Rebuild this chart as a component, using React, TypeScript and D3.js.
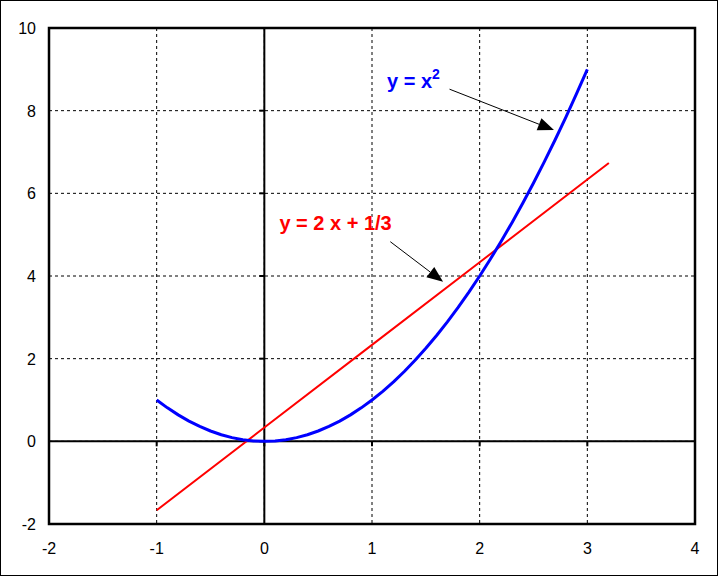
import React from "react";
import * as d3 from "d3";

const xTicks = [-2, -1, 0, 1, 2, 3, 4];
const yTicks = [-2, 0, 2, 4, 6, 8, 10];

const parabolaX = [-1, -0.9, -0.8, -0.7, -0.6, -0.5, -0.4, -0.3, -0.2, -0.1, 0, 0.1, 0.2, 0.3, 0.4, 0.5, 0.6, 0.7, 0.8, 0.9, 1, 1.1, 1.2, 1.3, 1.4, 1.5, 1.6, 1.7, 1.8, 1.9, 2, 2.1, 2.2, 2.3, 2.4, 2.5, 2.6, 2.7, 2.8, 2.9, 3];
const parabolaY = [1, 0.81, 0.64, 0.49, 0.36, 0.25, 0.16, 0.09, 0.04, 0.01, 0, 0.01, 0.04, 0.09, 0.16, 0.25, 0.36, 0.49, 0.64, 0.81, 1, 1.21, 1.44, 1.69, 1.96, 2.25, 2.56, 2.89, 3.24, 3.61, 4, 4.41, 4.84, 5.29, 5.76, 6.25, 6.76, 7.29, 7.84, 8.41, 9];

const lineX = [-1, 0, 1, 2, 3, 3.2];
const lineY = [-1.667, 0.333, 2.333, 4.333, 6.333, 6.733];

// annotations: [textX, textY, arrowStartX, arrowStartY, arrowEndX, arrowEndY]
const blueAnno = [1.14, 8.55, 1.72, 8.52, 2.69, 7.53];
const redAnno = [0.14, 5.11, 1.17, 4.83, 1.66, 3.86];

const W = 720, H = 576;
const L = 49, R = 695, T = 28, B = 524;

export default function App() {
  const x = d3.scaleLinear().domain([-2, 4]).range([L, R]);
  const y = d3.scaleLinear().domain([-2, 10]).range([B, T]);
  const para = parabolaX.map((v, i) => [v, parabolaY[i]] as [number, number]);
  const lin = lineX.map((v, i) => [v, lineY[i]] as [number, number]);
  const gen = d3.line<[number, number]>().x(d => x(d[0])).y(d => y(d[1]));
  const font = "'Liberation Sans', Arial, sans-serif";

  const arrow = (a: number[], key: string) => {
    const x1 = x(a[2]), y1 = y(a[3]), x2 = x(a[4]), y2 = y(a[5]);
    const ang = Math.atan2(y2 - y1, x2 - x1);
    const len = 16, half = 6.5;
    const bx = x2 - len * Math.cos(ang), by = y2 - len * Math.sin(ang);
    const px = -Math.sin(ang) * half, py = Math.cos(ang) * half;
    return (
      <g key={key}>
        <line x1={x1} y1={y1} x2={bx} y2={by} stroke="#000" strokeWidth={1} />
        <path d={`M${x2},${y2}L${bx + px},${by + py}L${bx - px},${by - py}Z`} fill="#000" />
      </g>
    );
  };

  return (
    <svg width={W} height={H} style={{ position: "absolute", left: 0, top: 0 }}>
      <rect x={0} y={0} width={W} height={H} fill="#fff" />
      <rect x={0.5} y={0.5} width={717} height={575} fill="none" stroke="#000" strokeWidth={1} />
      {xTicks.slice(1, -1).map(t => (
        <line key={"gx" + t} x1={x(t)} x2={x(t)} y1={T} y2={B} stroke="#000" strokeWidth={1} strokeDasharray="3,3" />
      ))}
      {yTicks.slice(1, -1).map(t => (
        <line key={"gy" + t} x1={L} x2={R} y1={y(t)} y2={y(t)} stroke="#000" strokeWidth={1} strokeDasharray="3,3" />
      ))}
      {/* axes through zero */}
      <line x1={L} x2={R} y1={y(0)} y2={y(0)} stroke="#000" strokeWidth={2} />
      <line x1={x(0)} x2={x(0)} y1={T} y2={B} stroke="#000" strokeWidth={2} />
      {xTicks.map(t => (
        <line key={"tx" + t} x1={x(t)} x2={x(t)} y1={y(0)} y2={y(0) + 5} stroke="#000" strokeWidth={2} />
      ))}
      {yTicks.map(t => (
        <line key={"ty" + t} x1={x(0) - 5} x2={x(0)} y1={y(t)} y2={y(t)} stroke="#000" strokeWidth={2} />
      ))}
      <rect x={L} y={T} width={R - L} height={B - T} fill="none" stroke="#000" strokeWidth={2.5} />
      <path d={gen(lin) || ""} fill="none" stroke="#ff0000" strokeWidth={2} />
      <path d={gen(para) || ""} fill="none" stroke="#0000ff" strokeWidth={3} strokeLinejoin="round" />
      {xTicks.map(t => (
        <text key={"lx" + t} x={x(t)} y={554} textAnchor="middle" fontFamily={font} fontSize={16} fill="#000">{t}</text>
      ))}
      {yTicks.map(t => (
        <text key={"ly" + t} x={36} y={y(t) + 6} textAnchor="end" fontFamily={font} fontSize={16} fill="#000">{t}</text>
      ))}
      {arrow(blueAnno, "ab")}
      {arrow(redAnno, "ar")}
      <text x={x(blueAnno[0])} y={y(blueAnno[1])} fontFamily={font} fontSize={20} fontWeight="bold" fill="#0000ff">
        y = x<tspan dy={-9} fontSize={14}>2</tspan>
      </text>
      <text x={x(redAnno[0])} y={y(redAnno[1])} fontFamily={font} fontSize={20} fontWeight="bold" fill="#ff0000">y = 2 x + 1/3</text>
    </svg>
  );
}
